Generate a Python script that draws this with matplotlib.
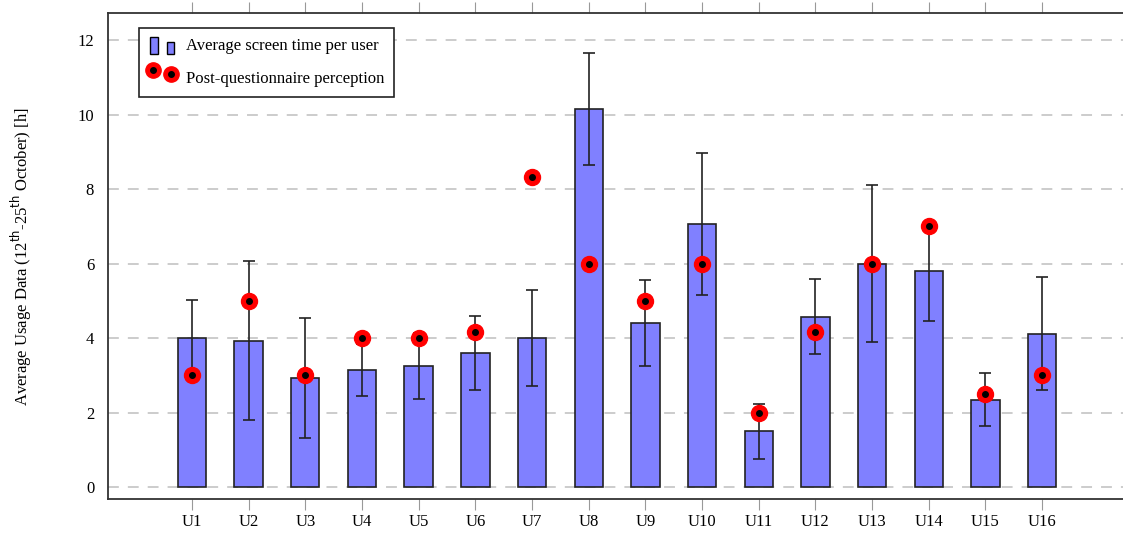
import numpy as np
import matplotlib.pyplot as plt
from matplotlib.patches import Rectangle
from matplotlib.lines import Line2D
from matplotlib.legend_handler import HandlerBase

plt.rcParams["font.family"] = ["Liberation Serif", "DejaVu Serif"]

users = ["U%d" % i for i in range(1, 17)]
screen_time = [4.0, 3.93, 2.93, 3.15, 3.25, 3.6, 4.0, 10.15, 4.41, 7.06, 1.5, 4.58, 6.0, 5.79, 2.35, 4.12]
screen_std = [1.03, 2.13, 1.6, 0.7, 0.89, 1.0, 1.29, 1.5, 1.15, 1.9, 0.74, 1.0, 2.11, 1.33, 0.71, 1.51]
perception = [3.0, 5.0, 3.0, 4.0, 4.0, 4.17, 8.33, 6.0, 5.0, 6.0, 2.0, 4.17, 6.0, 7.0, 2.5, 3.0]

bar_color = "#8080ff"


class BarsHandler(HandlerBase):
    def create_artists(self, legend, orig, xd, yd, w, h, fontsize, trans):
        r1 = Rectangle((xd + 0.05 * w, yd - 0.35 * h), 0.25 * w, 1.5 * h,
                       facecolor=bar_color, edgecolor="black", lw=1, transform=trans)
        r2 = Rectangle((xd + 0.6 * w, yd - 0.35 * h), 0.25 * w, 1.05 * h,
                       facecolor=bar_color, edgecolor="black", lw=1, transform=trans)
        return [r1, r2]


class MarksHandler(HandlerBase):
    def create_artists(self, legend, orig, xd, yd, w, h, fontsize, trans):
        arts = []
        for fx, fy in [(0.15, 1.1), (0.75, 0.75)]:
            arts.append(Line2D([xd + fx * w], [yd + fy * h], marker="o", ms=11, mfc="red",
                               mec="red", ls="none", transform=trans))
            arts.append(Line2D([xd + fx * w], [yd + fy * h], marker="o", ms=4, mfc="black",
                               mec="black", ls="none", transform=trans))
        return arts


fig = plt.figure(figsize=(11.23, 5.34), dpi=100)
ax = fig.add_axes([0.0962, 0.0655, 0.904, 0.9095])

x = np.arange(1, len(users) + 1)
ax.yaxis.grid(True, color="#c8c8c8", linestyle=(0, (6, 5)), lw=1.3)
ax.set_axisbelow(True)

bars = ax.bar(x, screen_time, width=0.5, color=bar_color, edgecolor="#222222", lw=1.2, zorder=2)
ax.errorbar(x, screen_time, yerr=screen_std, fmt="none", ecolor="#222222", elinewidth=1.2,
            capsize=4, capthick=1.2, zorder=3)
ax.plot(x, perception, "o", ms=11.5, mfc="red", mec="red", zorder=4)
dots = ax.plot(x, perception, "o", ms=4, mfc="black", mec="black", zorder=5)

ax.set_xlim(-0.48, 17.43)
ax.set_ylim(-0.32, 12.72)
ax.set_xticks(x)
ax.set_xticklabels(users, fontsize=12)
ax.set_yticks(np.arange(0, 13, 2))
ax.tick_params(axis="y", labelsize=12, length=0, pad=10)
ax.tick_params(axis="x", which="both", direction="out", length=8, color="#999999",
               top=True, bottom=True, pad=3)
ax.spines["right"].set_visible(False)
for s in ["left", "top", "bottom"]:
    ax.spines[s].set_color("#333333")
    ax.spines[s].set_linewidth(1.3)

ax.set_ylabel("Average Usage Data (12$^{\\mathrm{th}}$-25$^{\\mathrm{th}}$ October) [h]", fontsize=12, labelpad=31)

leg = ax.legend([bars, dots[0]],
                ["Average screen time per user", "Post-questionnaire perception"],
                handler_map={bars: BarsHandler(), dots[0]: MarksHandler()},
                loc="upper left", bbox_to_anchor=(0.0305, 0.97), borderaxespad=0,
                fontsize=12, fancybox=False, edgecolor="#222222", framealpha=1,
                handlelength=1.8, handletextpad=0.4, labelspacing=1.0, borderpad=0.6)
leg.get_frame().set_linewidth(1.2)

fig.savefig("out.png", dpi=100)
